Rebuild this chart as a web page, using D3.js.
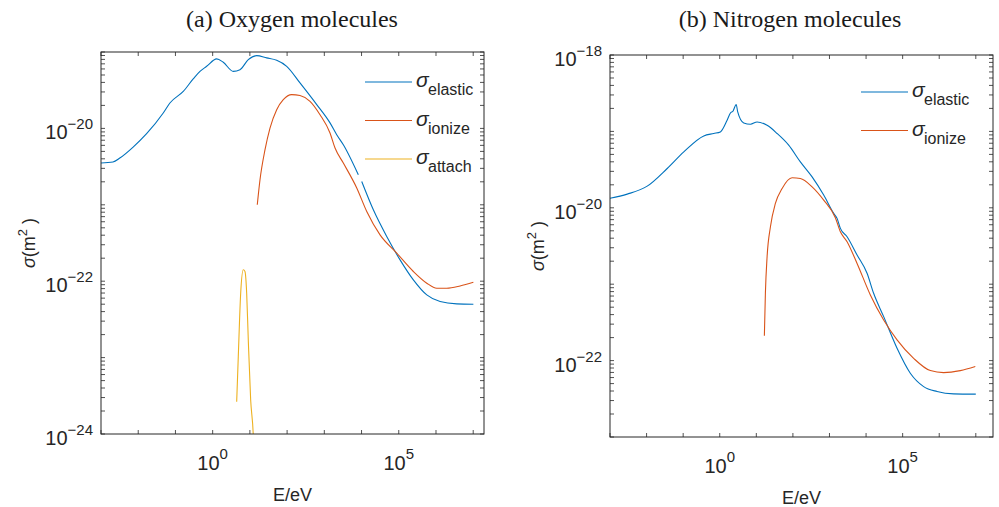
<!DOCTYPE html>
<html>
<head>
<meta charset="utf-8">
<script src="https://cdn.jsdelivr.net/npm/d3@7"></script>
<style>
  body { margin: 0; background: #fff; }
  svg { display: block; }
  .tick-label, .axis-label, .legend-text { font-family: "Liberation Sans", Arial, sans-serif; fill: #262626; }
  .title { font-family: "Liberation Serif", "Times New Roman", serif; fill: #1a1a1a; }
</style>
</head>
<body>
<svg id="chart" width="999" height="507"></svg>
<script>
//Dati: energia (eV) e sezione d'urto (m^2)
const o2ElasticE = [1e-3, 2.1e-3, 3.2e-3, 7.3e-3, 0.0168, 0.047, 0.071, 0.162, 0.30, 0.456, 0.69, 1.28, 1.93, 3.58, 5.42, 9.06, 15.2, 28.3, 52.5, 97.5, 222, 625, 1422, 2153, 3243, 8200, null, 10100, 20750, 47500, 108400, 246600, 566000, 1.29e6, 3.62e6, 1.01e7];
const o2ElasticS = [3.52e-21, 3.63e-21, 4.09e-21, 5.70e-21, 8.53e-21, 1.59e-20, 2.15e-20, 3.05e-20, 4.44e-20, 5.58e-20, 6.50e-20, 8.13e-20, 7.33e-20, 5.58e-20, 5.87e-20, 7.94e-20, 8.97e-20, 8.37e-20, 7.78e-20, 6.50e-20, 3.94e-20, 2.05e-20, 1.18e-20, 8.26e-21, 6.11e-21, 2.47e-21, null, 2.02e-21, 8.59e-22, 3.85e-22, 1.90e-22, 1.04e-22, 6.61e-23, 5.41e-23, 5.05e-23, 5.00e-23];

const o2IonizeE = [15.8, 18.7, 25.5, 34.7, 52.5, 79, 133, 222, 413, 766, 1422, 1940, 3243, 7430, 13800, 31400, 88300, 246600, 566000, 1.05e6, 1.95e6, 4.44e6, 1.01e7];
const o2IonizeS = [1.0e-21, 2.13e-21, 5.26e-21, 1.01e-20, 1.76e-20, 2.38e-20, 2.77e-20, 2.69e-20, 2.26e-20, 1.51e-20, 8.71e-21, 5.53e-21, 3.52e-21, 1.66e-21, 8.17e-22, 4.04e-22, 2.33e-22, 1.34e-22, 9.42e-23, 8.10e-23, 8.10e-23, 8.67e-23, 9.70e-23];

const o2AttachE = [4.42, 4.88, 5.66, 6.65, 7.38, 8.20, 9.06, 10.5, 12.3, 12.8];
const o2AttachS = [2.64e-24, 1.03e-23, 6.97e-23, 1.41e-22, 1.34e-22, 6.97e-23, 1.70e-23, 2.78e-24, 1.0e-24, 6e-25];

const n2ElasticE = [1e-3, 2.95e-3, 0.0104, 0.0366, 0.104, 0.366, 0.685, 1.04, 1.59, 1.96, 2.32, 2.57, 2.81, 3.10, 4.53, 6.90, 10.5, 19.7, 37.0, 76.7, 160, 335, 695, 1303, 1614, 1986, 3027, 5680, 10650, 16100, 30300, 70300, 162000, 375000, 871000, 2.47e6, 1e7];
const n2ElasticS = [1.33e-20, 1.51e-20, 1.92e-20, 3.27e-20, 5.40e-20, 8.73e-20, 9.39e-20, 9.85e-20, 1.40e-19, 1.74e-19, 1.85e-19, 2.09e-19, 2.25e-19, 1.80e-19, 1.29e-19, 1.24e-19, 1.33e-19, 1.20e-19, 9.39e-20, 6.61e-20, 3.99e-20, 2.54e-20, 1.47e-20, 8.45e-21, 7.27e-21, 5.38e-21, 4.18e-21, 2.41e-21, 1.39e-21, 7.60e-22, 3.76e-22, 1.45e-22, 6.84e-23, 4.57e-23, 3.94e-23, 3.67e-23, 3.64e-23];

const n2IonizeE = [16.6, 17.7, 19.7, 24.3, 33.2, 50.7, 95, 160, 335, 695, 1449, 1986, 3027, 5680, 13100, 30300, 70300, 200000, 571000, 1.32e6, 3.78e6, 9.69e6];
const n2IonizeS = [2.12e-22, 7.60e-22, 2.29e-21, 5.65e-21, 1.14e-20, 1.79e-20, 2.47e-20, 2.42e-20, 1.88e-20, 1.26e-20, 7.40e-21, 4.85e-21, 3.60e-21, 1.87e-21, 7.23e-22, 3.40e-22, 1.87e-22, 1.07e-22, 7.40e-23, 6.97e-23, 7.40e-23, 8.36e-23];

const xTickExp = [0, 5];
const o2YTickExp = [-24, -22, -20];
const n2YTickExp = [-22, -20, -18];
const seriesNames = ["elastic", "ionize", "attach"];
const colors = ["#0072BD", "#D95319", "#EDB120"];

const zip = (es, ss) => es.map((e, i) => e === null ? null : [e, ss[i]]);

const panels = [
  {
    key: "a", title: "(a) Oxygen molecules", titleX: 292,
    left: 101, top: 52, width: 383, height: 382,
    xDomain: [1e-3, Math.pow(10, 7.29)], yDomain: [1e-24, 1e-19],
    yTicks: o2YTickExp,
    series: [zip(o2ElasticE, o2ElasticS), zip(o2IonizeE, o2IonizeS), zip(o2AttachE, o2AttachS)],
    legend: { x: 365, y: 82 }
  },
  {
    key: "b", title: "(b) Nitrogen molecules", titleX: 790,
    left: 610, top: 55, width: 383, height: 382,
    xDomain: [1e-3, Math.pow(10, 7.47)], yDomain: [1e-23, 1e-18],
    yTicks: n2YTickExp,
    series: [zip(n2ElasticE, n2ElasticS), zip(n2IonizeE, n2IonizeS)],
    legend: { x: 861, y: 92 }
  }
];

const svg = d3.select("#chart");
const axisColor = "#262626";
const tickLen = 4;

function drawPanel(p) {
  const x = d3.scaleLog().domain(p.xDomain).range([p.left, p.left + p.width]);
  const y = d3.scaleLog().domain(p.yDomain).range([p.top + p.height, p.top]);
  const g = svg.append("g");
  const bottom = p.top + p.height, right = p.left + p.width;

  g.append("defs").append("clipPath").attr("id", "clip-" + p.key)
    .append("rect").attr("x", p.left).attr("y", p.top).attr("width", p.width).attr("height", p.height);

  //Linee (curva morbida come nell'originale)
  const line = d3.line().defined(d => d !== null).x(d => x(d[0])).y(d => y(d[1])).curve(d3.curveMonotoneX);
  g.append("g").attr("clip-path", `url(#clip-${p.key})`)
    .selectAll("path").data(p.series).join("path")
    .attr("d", line).attr("fill", "none")
    .attr("stroke", (d, i) => colors[i]).attr("stroke-width", 1.1);

  //Tacche x: una per decade, su e giu
  const lo = Math.ceil(Math.log10(p.xDomain[0])), hi = Math.floor(Math.log10(p.xDomain[1]));
  const xDec = d3.range(lo, hi + 1);
  g.append("g").selectAll("line").data(xDec.flatMap(k => [[k, bottom, -1], [k, p.top, 1]])).join("line")
    .attr("x1", d => x(Math.pow(10, d[0]))).attr("x2", d => x(Math.pow(10, d[0])))
    .attr("y1", d => d[1]).attr("y2", d => d[1] + d[2] * tickLen)
    .attr("stroke", axisColor).attr("stroke-width", 0.8);

  //Tacche y: decadi e minori
  const ylo = Math.log10(p.yDomain[0]), yhi = Math.log10(p.yDomain[1]);
  const yVals = [];
  for (let k = ylo; k <= yhi; k++) {
    for (let m = 1; m <= 9; m++) {
      if (k === yhi && m > 1) break;
      yVals.push(m * Math.pow(10, k));
    }
  }
  g.append("g").selectAll("line").data(yVals.flatMap(v => [[v, p.left, 1], [v, right, -1]])).join("line")
    .attr("x1", d => d[1]).attr("x2", d => d[1] + d[2] * tickLen)
    .attr("y1", d => y(d[0])).attr("y2", d => y(d[0]))
    .attr("stroke", axisColor).attr("stroke-width", 0.8);

  //Box
  g.append("rect").attr("x", p.left).attr("y", p.top).attr("width", p.width).attr("height", p.height)
    .attr("fill", "none").attr("stroke", axisColor).attr("stroke-width", 1);

  //Etichette x
  const xl = g.append("g").selectAll("text").data(xTickExp).join("text")
    .attr("class", "tick-label").attr("text-anchor", "middle")
    .attr("x", d => x(Math.pow(10, d))).attr("y", bottom + 36)
    .attr("font-size", 20);
  xl.append("tspan").text("10");
  xl.append("tspan").attr("dy", -11).attr("font-size", 15).text(d => String(d).replace("-", "\u2212"));

  //Etichette y
  const yl = g.append("g").selectAll("text").data(p.yTicks).join("text")
    .attr("class", "tick-label").attr("text-anchor", "end")
    .attr("x", p.left - 8).attr("y", d => y(Math.pow(10, d)) + 11)
    .attr("font-size", 20);
  yl.append("tspan").text("10");
  yl.append("tspan").attr("dy", -10).attr("font-size", 15).text(d => String(d).replace("-", "\u2212"));

  //Titoli assi
  g.append("text").attr("class", "axis-label").attr("text-anchor", "middle")
    .attr("x", p.left + p.width / 2).attr("y", bottom + 67).attr("font-size", 18).text("E/eV");

  const ylab = g.append("text").attr("class", "axis-label").attr("text-anchor", "middle")
    .attr("transform", `translate(${p.left - 66},${p.top + p.height / 2}) rotate(-90)`)
    .attr("font-size", 18);
  ylab.append("tspan").attr("font-style", "italic").text("σ");
  ylab.append("tspan").text("(m");
  ylab.append("tspan").attr("dy", -8).attr("font-size", 13).text("2");
  ylab.append("tspan").attr("dy", 8).text(" )");

  //Titolo
  g.append("text").attr("class", "title").attr("text-anchor", "middle")
    .attr("x", p.titleX).attr("y", 27).attr("font-size", 24).text(p.title);

  //Legenda senza bordo
  const lg = g.append("g").selectAll("g").data(p.series.map((s, i) => i)).join("g")
    .attr("transform", i => `translate(${p.legend.x},${p.legend.y + i * 38.5})`);
  lg.append("line").attr("x1", 0).attr("x2", 47).attr("y1", 0).attr("y2", 0)
    .attr("stroke", i => colors[i]).attr("stroke-width", 1.1);
  lg.append("text").attr("class", "legend-text").attr("x", 51).attr("y", 5)
    .attr("font-size", 21).attr("font-style", "italic").text("σ");
  lg.append("text").attr("class", "legend-text").attr("x", 63).attr("y", 13)
    .attr("font-size", 16).text(i => seriesNames[i]);
}

panels.forEach(drawPanel);
</script>
</body>
</html>
